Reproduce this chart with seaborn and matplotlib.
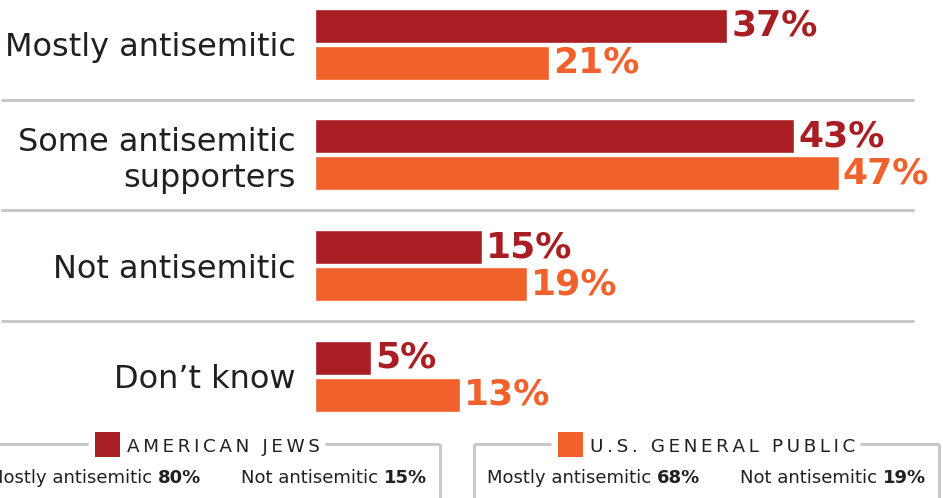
import numpy as np
import pandas as pd
import seaborn as sns
import matplotlib.pyplot as plt
from matplotlib.patches import Rectangle

# chart data
categories = ["Mostly antisemitic", "Some antisemitic\nsupporters", "Not antisemitic", "Don\u2019t know"]
groups = ["AMERICAN JEWS", "U.S. GENERAL PUBLIC"]
jews = [37, 43, 15, 5]
public = [21, 47, 19, 13]
summary_labels = ["Mostly antisemitic", "Not antisemitic"]
jews_summary = [80, 15]
public_summary = [68, 19]

RED = "#A91E23"
ORANGE = "#F0612B"
TEXT = "#231F20"
RULE = "#C8C8C8"

df = pd.DataFrame({
    "category": categories * 2,
    "group": [groups[0]] * len(jews) + [groups[1]] * len(public),
    "pct": jews + public,
})

sns.set_theme(style="white")
plt.rcParams["font.family"] = ["DejaVu Sans"]

W, H = 943, 498
fig = plt.figure(figsize=(W / 100, H / 100), dpi=100)
px_per_pct = 11.14
row_px = 110.7
first_row = 44.2

# bar area: x=0 at pixel 315
ax = fig.add_axes([315 / W, 78 / H, 628 / W, 420 / H])
sns.barplot(data=df, y="category", x="pct", hue="group", order=categories,
            hue_order=groups, palette=[RED, ORANGE], orient="h",
            width=4 * 18.5 / row_px, saturation=1, legend=False, ax=ax)
ax.set_xlim(0, 628 / px_per_pct)
ax.set_ylim((420 - first_row) / row_px, -first_row / row_px)

# small gap between the two bars of a row
bar_h = 34 / row_px
for p in ax.patches:
    h = p.get_height()
    p.set_y(p.get_y() + (h - bar_h) / 2)
    p.set_height(bar_h)

for cont, color in zip(ax.containers, [RED, ORANGE]):
    ax.bar_label(cont, fmt="%d%%", padding=3, color=color, fontsize=26,
                 fontweight="bold")

for i in range(len(categories) - 1):
    ax.axhline(i + 0.5, xmin=(2 - 315) / 628, xmax=(913 - 315) / 628,
               color=RULE, lw=2.2, clip_on=False)

sns.despine(ax=ax, left=True, bottom=True)
ax.set_xticks([])
ax.set_xlabel("")
ax.set_ylabel("")
ax.tick_params(axis="y", length=0, pad=14, labelsize=23, labelcolor=TEXT)

# summary boxes at the bottom, drawn in pixel coordinates
ov = fig.add_axes([0, 0, 1, 1])
ov.set_xlim(0, W)
ov.set_ylim(H, 0)
ov.axis("off")
ov.patch.set_visible(False)

box_x = [-25, 474]
box_w = 465
top_y = 444
fig.canvas.draw()
renderer = fig.canvas.get_renderer()
for x0, name, color, vals in zip(box_x, groups, [RED, ORANGE],
                                 [jews_summary, public_summary]):
    spaced = "\u2009".join(name)  # the original title is letter-spaced
    title = ov.text(0, 452, spaced, fontsize=13.2, color=TEXT, ha="left", va="baseline")
    tw = title.get_window_extent(renderer).width
    gw = 25 + 7 + tw
    start = x0 + box_w / 2 - gw / 2
    title.set_x(start + 32)
    ov.add_patch(Rectangle((start, 432), 25, 25, color=color, lw=0))
    kw = dict(color=RULE, lw=2.2, solid_capstyle="butt")
    ov.plot([x0, start - 7], [top_y, top_y], **kw)
    ov.plot([start + gw + 5, x0 + box_w], [top_y, top_y], **kw)
    ov.plot([x0, x0], [top_y, H + 5], **kw)
    ov.plot([x0 + box_w, x0 + box_w], [top_y, H + 5], **kw)
    for dx, lab, v in zip([13, 266], summary_labels, vals):
        t = ov.text(x0 + dx, 483, lab, fontsize=13, color=TEXT, ha="left",
                    va="baseline")
        ov.annotate(f"{v}%", xy=(1, 0), xycoords=t, xytext=(4, 0),
                    textcoords="offset points", ha="left", va="bottom",
                    fontsize=13, fontweight="bold", color=TEXT)

fig.savefig("out.png", dpi=100)
